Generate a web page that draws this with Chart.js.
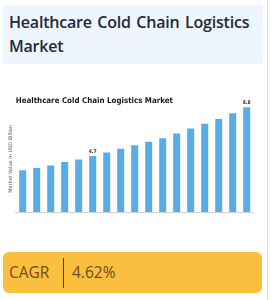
<!DOCTYPE html>
<html>
<head>
<meta charset="utf-8">
<script src="https://cdn.jsdelivr.net/npm/chart.js@4/dist/chart.umd.min.js"></script>
<style>
  html, body { margin: 0; padding: 0; background: #ffffff; }
  body { width: 272px; height: 300px; position: relative; overflow: hidden; font-family: "Open Sans", "Noto Sans", sans-serif; }
  .edge { position: absolute; left: 267px; top: 0; width: 1px; height: 300px; background: #e2e4e8; }
  .header { position: absolute; left: 3px; top: 5px; width: 260px; height: 59px; background: #eef5fc; border-radius: 4px; }
  .title { position: absolute; left: 9px; top: 10px; margin: 0; white-space: nowrap; font-size: 16px; font-weight: 600; line-height: 24px; color: #1f2a3a; letter-spacing: -0.2px; word-spacing: 1.5px; }
  .chartbox { position: absolute; left: 0; top: 85px; width: 272px; height: 140px; }
  .cagr { position: absolute; left: 3px; top: 252px; width: 259px; height: 41px; background: #fbbf40; border-radius: 6px; }
  .cagr .lab { position: absolute; left: 6px; top: 9px; font-size: 15.5px; color: #6b4c14; line-height: 22px; }
  .cagr .sep { position: absolute; left: 60px; top: 6px; width: 1px; height: 30px; background: #4e3a10; }
  .cagr .val { position: absolute; left: 69px; top: 9px; font-size: 15.5px; color: #6b4c14; line-height: 22px; }
</style>
</head>
<body>
<div class="edge"></div>
<div class="header"></div>
<h1 class="title">Healthcare Cold Chain Logistics<br>Market</h1>
<div class="chartbox"><canvas id="c" width="272" height="140"></canvas></div>
<div class="cagr"><span class="lab">CAGR</span><div class="sep"></div><span class="val">4.62%</span></div>
<script>
const years = ['2019','2020','2021','2022','2023','2024','2025','2026','2027','2028','2029','2030','2031','2032','2033','2034','2035'];
const marketValues = [3.5, 3.7, 3.9, 4.2, 4.4, 4.7, 5.0, 5.3, 5.6, 5.9, 6.2, 6.6, 7.0, 7.4, 7.8, 8.3, 8.8];
const labeledYears = ['2024', '2035'];
const chartTitle = 'Healthcare Cold Chain Logistics Market';
const yAxisTitle = 'Market Value in USD Billion';

const valueLabels = {
  id: 'valueLabels',
  afterDatasetsDraw(chart) {
    const ctx = chart.ctx;
    const meta = chart.getDatasetMeta(0);
    ctx.save();
    ctx.font = 'bold 5px "DejaVu Sans Condensed", sans-serif';
    ctx.fillStyle = '#333';
    ctx.textAlign = 'center';
    ctx.textBaseline = 'bottom';
    meta.data.forEach((bar, i) => {
      if (labeledYears.includes(years[i])) {
        ctx.fillText(marketValues[i].toFixed(1), bar.x, bar.y - 2);
      }
    });
    ctx.restore();
  }
};

new Chart(document.getElementById('c'), {
  type: 'bar',
  data: {
    labels: years,
    datasets: [{
      data: marketValues,
      backgroundColor: '#59ade6',
      borderWidth: 0,
      barPercentage: 0.5,
      categoryPercentage: 1.0
    }]
  },
  options: {
    responsive: false,
    devicePixelRatio: 1,
    animation: false,
    layout: { padding: { left: 1.7, right: 18.3, top: 0, bottom: 4 } },
    plugins: {
      legend: { display: false },
      tooltip: { enabled: false },
      title: {
        display: true,
        text: chartTitle,
        align: 'start',
        fullSize: false,
        color: '#1a1a1a',
        font: { family: '"DejaVu Sans Condensed", sans-serif', weight: 'bold', size: 7.9 },
        padding: { top: 11.5, bottom: 0 }
      }
    },
    scales: {
      x: {
        grid: { display: false },
        border: { display: true, color: '#d0d0d0' },
        ticks: { font: { size: 4, family: '"DejaVu Sans Condensed", sans-serif' }, color: '#666', padding: 2, maxRotation: 0, autoSkip: false },
        afterFit(s) { s.height = 9; }
      },
      y: {
        min: 0,
        max: 8.9,
        grid: { display: false },
        border: { display: false },
        ticks: { display: false },
        title: { display: true, text: yAxisTitle, color: '#555', font: { size: 5, family: '"DejaVu Sans", sans-serif' }, padding: { top: 6, bottom: 2 } },
        afterFit(s) { s.width = 14; }
      }
    }
  },
  plugins: [valueLabels]
});
</script>
</body>
</html>
